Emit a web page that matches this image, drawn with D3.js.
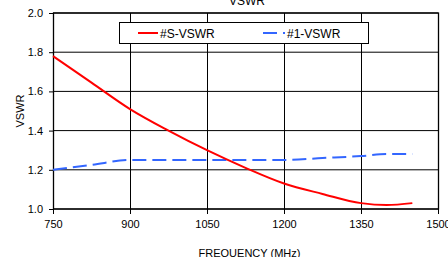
<!DOCTYPE html>
<html>
<head>
<meta charset="utf-8">
<script src="https://cdn.jsdelivr.net/npm/d3@7"></script>
<style>
  body { margin: 0; background: #fff; }
  text { font-family: "Liberation Sans", Arial, sans-serif; fill: #000; }
</style>
</head>
<body>
<div id="chart"></div>
<script>
// Data
const freq = [750, 825, 900, 975, 1050, 1125, 1200, 1275, 1350, 1400, 1450];
const sVswr = [1.78, 1.645, 1.51, 1.40, 1.30, 1.21, 1.13, 1.077, 1.03, 1.02, 1.03];
const oneVswr = [1.20, 1.225, 1.25, 1.25, 1.25, 1.25, 1.25, 1.26, 1.27, 1.28, 1.28];
const xTicks = [750, 900, 1050, 1200, 1350, 1500];
const yTicks = [1.0, 1.2, 1.4, 1.6, 1.8, 2.0];
const seriesNames = ['#S-VSWR', '#1-VSWR'];

const W = 448, H = 257;
const margin = { top: 13, right: 10, bottom: 48, left: 53 };
const width = 438 - margin.left;
const height = 209 - margin.top;

const svg = d3.select('#chart')
    .append('svg')
    .attr('width', W)
    .attr('height', H);

const g = svg.append('g')
    .attr('transform', `translate(${margin.left},${margin.top})`);

const x = d3.scaleLinear().domain([750, 1500]).range([0, width]);
const y = d3.scaleLinear().domain([1.0, 2.0]).range([height, 0]);

// Grid lines
g.append('g')
    .selectAll('line')
    .data(xTicks)
    .enter()
    .append('line')
    .attr('x1', d => Math.round(x(d)) + 0.5).attr('x2', d => Math.round(x(d)) + 0.5)
    .attr('y1', 0).attr('y2', height)
    .attr('stroke', '#000').attr('stroke-width', 1);

g.append('g')
    .selectAll('line')
    .data(yTicks)
    .enter()
    .append('line')
    .attr('x1', 0).attr('x2', width)
    .attr('y1', d => y(d)).attr('y2', d => y(d))
    .attr('stroke', '#000').attr('stroke-width', 1);

// Axes
const xAxis = g.append('g')
    .attr('transform', `translate(0,${height})`)
    .call(d3.axisBottom(x).tickValues(xTicks).tickSize(5).tickPadding(6).tickFormat(d3.format('d')));
const yAxis = g.append('g')
    .call(d3.axisLeft(y).tickValues(yTicks).tickSize(4).tickPadding(6).tickFormat(d3.format('.1f')));

[xAxis, yAxis].forEach(a => {
    a.select('.domain').remove();
    a.selectAll('line').attr('stroke', '#000');
    a.selectAll('text').style('font-size', '11px').style('font-family', '"Liberation Sans", Arial, sans-serif');
});

// Plot border
g.append('rect')
    .attr('x', 0.5).attr('y', 0)
    .attr('width', width).attr('height', height)
    .attr('fill', 'none').attr('stroke', '#000').attr('stroke-width', 1.3);

// Lines
const line = vals => d3.line()
    .x((d, i) => x(freq[i]))
    .y(d => y(d))
    .curve(d3.curveMonotoneX)(vals);

g.append('path')
    .attr('d', line(oneVswr))
    .attr('fill', 'none')
    .attr('stroke', '#3366ff')
    .attr('stroke-width', 2)
    .attr('stroke-dasharray', '14,6');

g.append('path')
    .attr('d', line(sVswr))
    .attr('fill', 'none')
    .attr('stroke', '#ff0000')
    .attr('stroke-width', 2);

// Legend
const leg = svg.append('g');
leg.append('rect')
    .attr('x', 119.5).attr('y', 22.5)
    .attr('width', 249).attr('height', 21)
    .attr('fill', '#fff').attr('stroke', '#000').attr('stroke-width', 1);
leg.append('line')
    .attr('x1', 138).attr('x2', 158).attr('y1', 33).attr('y2', 33)
    .attr('stroke', '#ff0000').attr('stroke-width', 2);
leg.append('text')
    .attr('x', 160).attr('y', 37.5)
    .style('font-size', '12px')
    .text(seriesNames[0]);
leg.append('line')
    .attr('x1', 263).attr('x2', 285).attr('y1', 33).attr('y2', 33)
    .attr('stroke', '#3366ff').attr('stroke-width', 2)
    .attr('stroke-dasharray', '14,6');
leg.append('text')
    .attr('x', 287).attr('y', 37.5)
    .style('font-size', '12px')
    .text(seriesNames[1]);

// Titles
svg.append('text')
    .attr('x', 247).attr('y', 5)
    .attr('text-anchor', 'middle')
    .style('font-size', '12px')
    .text('VSWR');

svg.append('text')
    .attr('transform', `translate(24,${margin.top + height / 2}) rotate(-90)`)
    .attr('text-anchor', 'middle')
    .style('font-size', '11px')
    .text('VSWR');

svg.append('text')
    .attr('x', margin.left + width / 2 + 4).attr('y', 257)
    .attr('text-anchor', 'middle')
    .style('font-size', '11px')
    .text('FREQUENCY (MHz)');
</script>
</body>
</html>
